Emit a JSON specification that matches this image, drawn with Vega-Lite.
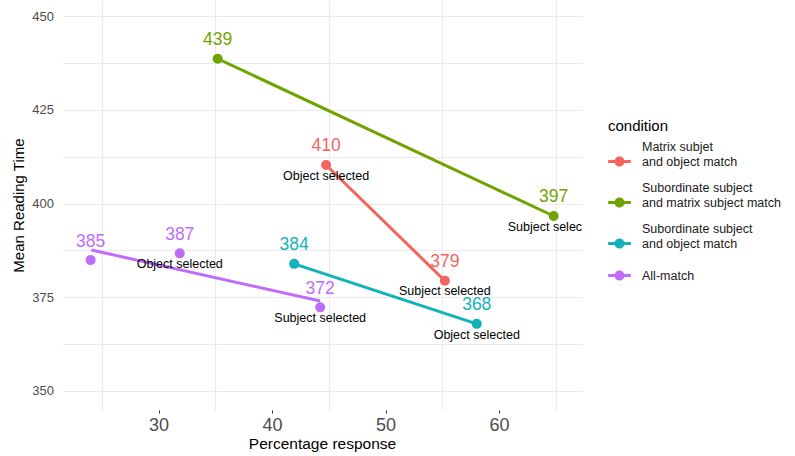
{
  "$schema": "https://vega.github.io/schema/vega-lite/v6.json",
  "width": 520,
  "height": 410,
  "autosize": "none",
  "padding": {"left": 62, "top": 0, "right": 213, "bottom": 46},
  "background": "white",
  "config": {
    "view": {"stroke": null},
    "font": "Liberation Sans",
    "axis": {"gridColor": "#ebebeb", "gridWidth": 1.1, "domain": false, "labelFont": "Liberation Sans", "titleFont": "Liberation Sans", "titleFontWeight": "normal", "titleColor": "#000000", "labelColor": "#4d4d4d"},
    "legend": {"labelFont": "Liberation Sans", "titleFont": "Liberation Sans", "titleFontWeight": "normal"}
  },
  "datasets": {
    "pts": [
      {"condition": "Matrix subjet and object match", "pct": 44.76, "rt": 410.27, "num": "410", "sel": "Object selected"},
      {"condition": "Matrix subjet and object match", "pct": 55.22, "rt": 379.4, "num": "379", "sel": "Subject selected"},
      {"condition": "Subordinate subject and matrix subject match", "pct": 35.21, "rt": 438.6, "num": "439", "sel": ""},
      {"condition": "Subordinate subject and matrix subject match", "pct": 64.8, "rt": 396.67, "num": "397", "sel": "Subject selected"},
      {"condition": "Subordinate subject and object match", "pct": 41.95, "rt": 383.9, "num": "384", "sel": ""},
      {"condition": "Subordinate subject and object match", "pct": 58.03, "rt": 367.9, "num": "368", "sel": "Object selected"},
      {"condition": "All-match", "pct": 24.02, "rt": 384.9, "num": "385", "sel": ""},
      {"condition": "All-match", "pct": 31.87, "rt": 386.7, "num": "387", "sel": "Object selected"},
      {"condition": "All-match", "pct": 44.24, "rt": 372.3, "num": "372", "sel": "Subject selected"}
    ],
    "lines": [
      {"condition": "Matrix subjet and object match", "pct": 44.76, "rt": 410.27},
      {"condition": "Matrix subjet and object match", "pct": 55.22, "rt": 379.4},
      {"condition": "Subordinate subject and matrix subject match", "pct": 35.21, "rt": 438.6},
      {"condition": "Subordinate subject and matrix subject match", "pct": 64.8, "rt": 396.67},
      {"condition": "Subordinate subject and object match", "pct": 41.95, "rt": 383.9},
      {"condition": "Subordinate subject and object match", "pct": 58.03, "rt": 367.9},
      {"condition": "All-match", "pct": 24.09, "rt": 387.6},
      {"condition": "All-match", "pct": 44.24, "rt": 374.0}
    ]
  },
  "encoding": {
    "x": {
      "field": "pct", "type": "quantitative",
      "scale": {"domain": [21.5, 67.3], "nice": false, "zero": false},
      "axis": {
        "title": "Percentage response",
        "values": [25, 30, 35, 40, 45, 50, 55, 60, 65],
        "labelExpr": "datum.value % 10 === 0 ? datum.label : ''",
        "gridOpacity": {"condition": {"test": "datum.value % 10 === 5", "value": 1}, "value": 0},
        "tickOpacity": {"condition": {"test": "datum.value % 10 === 0", "value": 1}, "value": 0},
        "ticks": true, "tickSize": 3, "tickColor": "#333333", "tickWidth": 1,
        "labelFontSize": 18, "labelPadding": 3,
        "titleFontSize": 15.5, "titlePadding": 2,
        "labelFlush": false
      }
    },
    "y": {
      "field": "rt", "type": "quantitative",
      "scale": {"domain": [344.93, 454.27], "nice": false, "zero": false},
      "axis": {
        "title": "Mean Reading Time",
        "values": [350, 362.5, 375, 387.5, 400, 412.5, 425, 437.5, 450],
        "labelExpr": "datum.value % 25 === 0 ? datum.label : ''",
        "ticks": false, "labelPadding": 8.5,
        "labelFontSize": 13, "titleFontSize": 15, "titlePadding": 5,
        "labelFlush": false
      }
    },
    "color": {
      "field": "condition", "type": "nominal",
      "scale": {
        "domain": ["Matrix subjet and object match", "Subordinate subject and matrix subject match", "Subordinate subject and object match", "All-match"],
        "range": ["#F3645F", "#70A300", "#12B2B9", "#BF6CFB"]
      },
      "legend": {
        "title": "condition",
        "orient": "none", "legendX": 546, "legendY": 132,
        "titleFontSize": 15, "titleColor": "#000000", "titlePadding": 3,
        "labelFontSize": 12.5, "labelColor": "#1a1a1a",
        "labelExpr": "indexof(datum.label, ' and ') > 0 ? [substring(datum.label, 0, indexof(datum.label, ' and ')), substring(datum.label, indexof(datum.label, ' and ') + 1)] : datum.label",
        "symbolType": "M-1,-0.13H1V0.13H-1Z M0.44,0A0.44,0.44 0 1,1 -0.44,0A0.44,0.44 0 1,1 0.44,0Z",
        "symbolSize": 515, "symbolStrokeWidth": 0, "symbolOpacity": 1,
        "rowPadding": 14, "labelOffset": 11, "labelLimit": 300,
        "encode": {
          "title": {"update": {"dy": {"value": -13}}},
          "labels": {
            "update": {
              "dy": [{"test": "datum.value === 'All-match'", "value": 0}, {"value": -14.5}]
            }
          }
        }
      }
    }
  },
  "layer": [
    {
      "data": {"name": "lines"},
      "mark": {"type": "line", "strokeWidth": 3, "clip": true},
      "encoding": {"detail": {"field": "condition"}}
    },
    {
      "data": {"name": "pts"},
      "mark": {"type": "point", "filled": true, "size": 100, "opacity": 1, "clip": true}
    },
    {
      "data": {"name": "pts"},
      "mark": {"type": "text", "fontSize": 17.5, "dy": -18.6, "clip": true},
      "encoding": {"text": {"field": "num"}}
    },
    {
      "data": {"name": "pts"},
      "mark": {"type": "text", "fontSize": 12.5, "dy": 10.7, "color": "#000000", "clip": true},
      "encoding": {"text": {"field": "sel"}, "color": {"value": "#000000"}}
    }
  ]
}
